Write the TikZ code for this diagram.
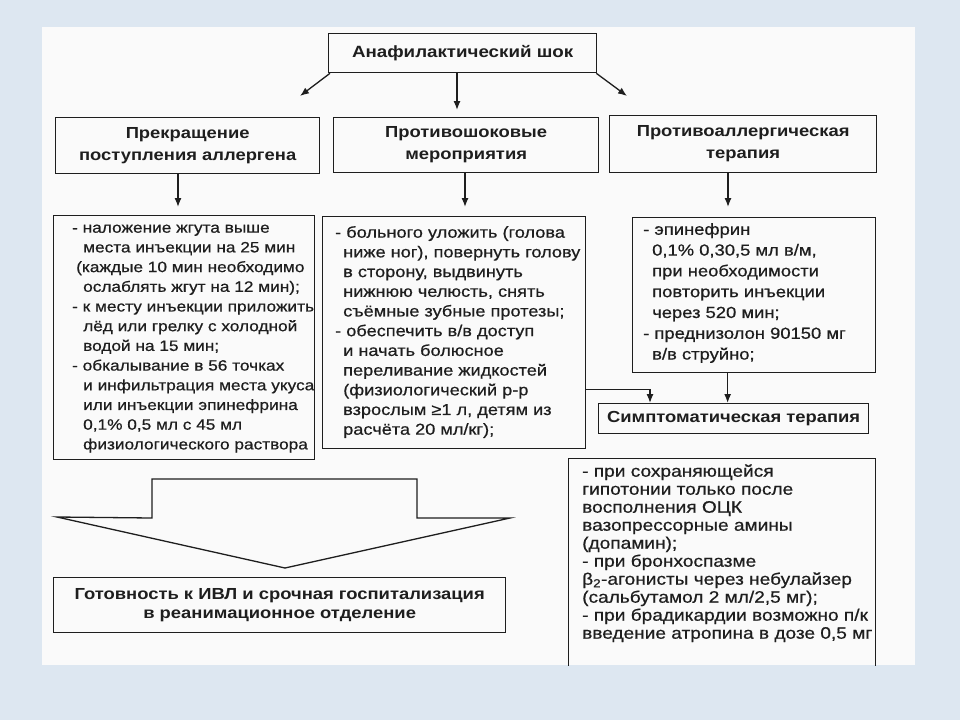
\documentclass[tikz,border=0pt]{standalone}
\usepackage{fontspec}
\setmainfont{Liberation Sans}
\newfontfamily\bodyfont{Liberation Sans}[FakeStretch=1.15,FakeBold=0.6]
\newfontfamily\headfont{Liberation Sans}[FakeStretch=1.15]
\usetikzlibrary{arrows.meta}
\definecolor{bgblue}{HTML}{DDE7F1}
\definecolor{ink}{HTML}{1E1E1E}
\definecolor{paper}{HTML}{FAFAFA}
\newcommand{\ind}[1][11pt]{\hspace*{#1}}
\begin{document}
\begin{tikzpicture}[x=1pt,y=-1pt,
  box/.style={draw=ink, line width=1.3pt, inner sep=0pt, anchor=north west},
  head/.style={font=\headfont\bfseries\fontsize{16}{22}\selectfont, text=ink, align=center},
  body/.style={font=\bodyfont\fontsize{16}{19.7}\selectfont, text=ink, align=left, anchor=north west, inner sep=0pt},
  arr/.style={draw=ink, line width=1.3pt, -{Latex[length=9pt,width=7pt]}}]
\useasboundingbox (0,0) rectangle (960,720);
\fill[bgblue] (0,0) rectangle (960,720);
\fill[paper] (42,27) rectangle (915,665);

% boxes
\node[box, head, font=\headfont\bfseries\fontsize{16.3}{22}\selectfont, minimum width=268pt, minimum height=39pt] (top) at (328,33) {Анафилактический шок};
\node[box, head, minimum width=264pt, minimum height=56pt] (b1) at (55,117) {Прекращение\\поступления аллергена};
\node[box, head, minimum width=265pt, minimum height=55pt] (b2) at (333,117) {Противошоковые\\мероприятия};
\node[box, head, minimum width=267pt, minimum height=57pt] (b3) at (609,115) {Противоаллергическая\\терапия};

\node[box, minimum width=261pt, minimum height=244pt] (d1) at (53,215) {};
\node[box, minimum width=263pt, minimum height=232pt] (d2) at (322,216) {};
\node[box, minimum width=243pt, minimum height=155pt] (d3) at (632,217) {};
\node[box, head, minimum width=270pt, minimum height=30pt] (s) at (598,403) {Симптоматическая терапия};
\begin{scope}
\clip (42,27) rectangle (915,665);
\node[box, minimum width=307pt, minimum height=230pt] (sd) at (568,458) {};
\end{scope}
\node[box, head, minimum width=452pt, minimum height=55pt, font=\headfont\bfseries\fontsize{16}{19.5}\selectfont] (fin) at (53,577) {Готовность к ИВЛ и срочная госпитализация\\в реанимационное отделение};

% texts
\node[body, font=\bodyfont\fontsize{15}{19.7}\selectfont] (t1) at (72,218.7) {\strut- наложение жгута выше\\
\ind места инъекции на 25 мин\\
\ind[4pt](каждые 10 мин необходимо\\
\ind ослаблять жгут на 12 мин);\\
- к месту инъекции приложить\\
\ind лёд или грелку с холодной\\
\ind водой на 15 мин;\\
- обкалывание в 56 точках\\
\ind и инфильтрация места укуса\\
\ind или инъекции эпинефрина\\
\ind 0,1\% 0,5 мл с 45 мл\\
\ind физиологического раствора};

\node[body, font=\bodyfont\fontsize{15.8}{19.7}\selectfont] (t2) at (335,223.7) {\strut- больного уложить (голова\\
\ind[8pt]ниже ног), повернуть голову\\
\ind[8pt]в сторону, выдвинуть\\
\ind[8pt]нижнюю челюсть, снять\\
\ind[8pt]съёмные зубные протезы;\\
- обеспечить в/в доступ\\
\ind[8pt]и начать болюсное\\
\ind[8pt]переливание жидкостей\\
\ind[8pt](физиологический р-р\\
\ind[8pt]взрослым ≥1 л, детям из\\
\ind[8pt]расчёта 20 мл/кг);};

\node[body, font=\bodyfont\fontsize{16}{20.8}\selectfont] (t3) at (643,220) {\strut- эпинефрин\\
\ind[9pt]0,1\% 0,30,5 мл в/м,\\
\ind[9pt]при необходимости\\
\ind[9pt]повторить инъекции\\
\ind[9pt]через 520 мин;\\
- преднизолон 90150 мг\\
\ind[9pt]в/в струйно;};

\node[body, font=\bodyfont\fontsize{16.6}{18}\selectfont] (t4) at (582,463.9) {\strut- при сохраняющейся\\
гипотонии только после\\
восполнения ОЦК\\
вазопрессорные амины\\
(допамин);\\
- при бронхоспазме\\
β\textsubscript{2}-агонисты через небулайзер\\
(сальбутамол 2 мл/2,5 мг);\\
- при брадикардии возможно п/к\\
введение атропина в дозе 0,5 мг};

% connectors
\coordinate (c1) at (300,96);
\coordinate (c2) at (457,110);
\coordinate (c3) at (627,96);
\coordinate (c4) at (178,207);
\coordinate (c5) at (465,207);
\coordinate (c6) at (728,207);
\draw[arr] ([xshift=2pt]top.south west) -- (c1);
\draw[arr] (top.south -| c2) -- (c2);
\draw[arr] ([xshift=-1pt]top.south east) -- (c3);
\draw[arr] (b1.south -| c4) -- (c4);
\draw[arr] (b2.south -| c5) -- (c5);
\draw[arr] (b3.south -| c6) -- (c6);
\draw[arr] ([xshift=-26.5pt]d3.south) -- ([xshift=-26.5pt]d3.south |- s.north);
\draw[arr] ([yshift=60pt]d2.south east) -| ([xshift=52pt]s.north west);

% big arrow
\draw[draw=ink, line width=1.3pt, line join=miter, fill=paper] (57,517) -- (152,518) -- (152,479) -- (417,479) -- (417,518) -- (510,518) -- (285,568) -- cycle;
\end{tikzpicture}
\end{document}
